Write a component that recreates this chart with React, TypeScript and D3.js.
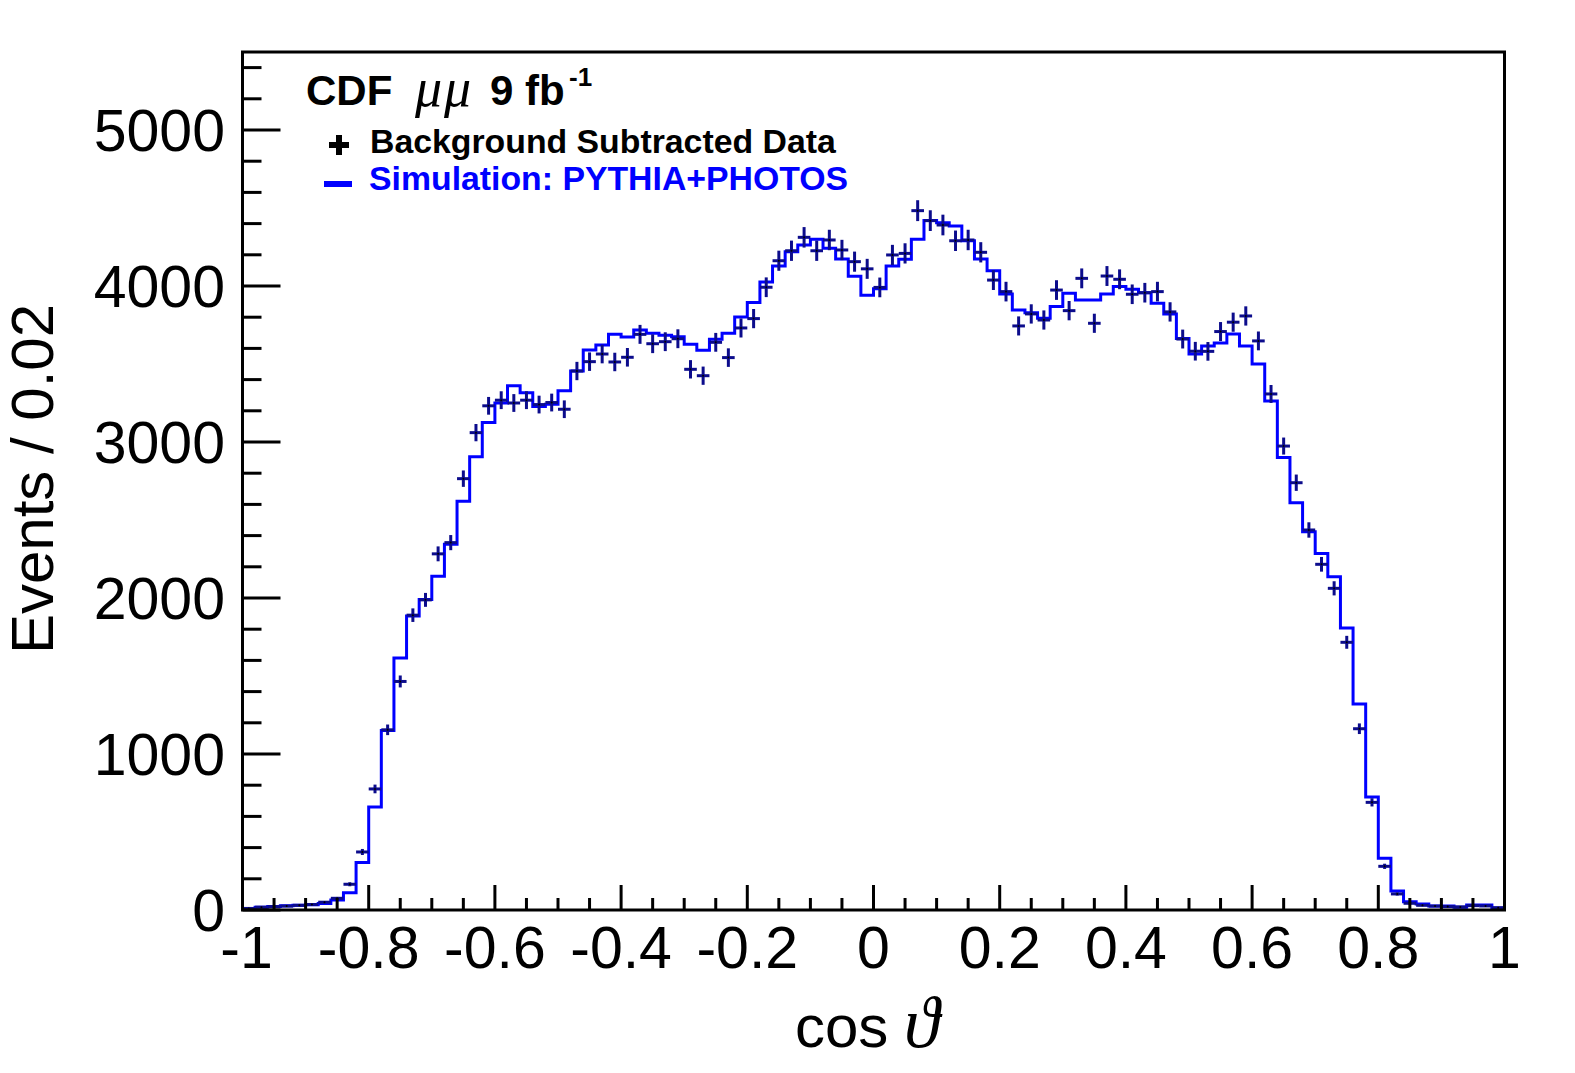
import * as d3 from 'd3'

// cos(theta) bins: -1..1 in steps of 0.02 (100 bins)
const binEdges = d3.range(101).map((i) => -1 + i * 0.02)

// PYTHIA+PHOTOS simulation, events per bin
const simCounts = [
  6, 17, 22, 27, 30, 33, 42, 64, 110, 305,
  660, 1150, 1615, 1885, 1990, 2140, 2345, 2620, 2905, 3125,
  3250, 3360, 3315, 3228, 3242, 3328, 3455, 3590, 3622, 3690,
  3673, 3718, 3697, 3684, 3675, 3626, 3588, 3658, 3697, 3801,
  3895, 4026, 4128, 4220, 4263, 4299, 4242, 4173, 4062, 3940,
  3983, 4128, 4171, 4299, 4420, 4405, 4385, 4290, 4173, 4098,
  3949, 3846, 3829, 3793, 3868, 3953, 3910, 3910, 3949, 3996,
  3979, 3957, 3889, 3820, 3664, 3564, 3616, 3635, 3692, 3616,
  3500, 3263, 2900, 2611, 2425, 2286, 2137, 1808, 1321, 724,
  331, 122, 53, 38, 26, 26, 17, 32, 32, 11,
]

// background subtracted data, events per bin
const dataCounts = [
  10, 18, 22, 25, 30, 35, 50, 75, 165, 372,
  776, 1155, 1465, 1890, 1988, 2283, 2355, 2765, 3060, 3232,
  3268, 3250, 3268, 3240, 3253, 3210, 3455, 3515, 3564, 3513,
  3543, 3690, 3630, 3643, 3662, 3466, 3425, 3639, 3541, 3731,
  3791, 3992, 4162, 4226, 4312, 4226, 4295, 4231, 4156, 4110,
  3991, 4199, 4209, 4483, 4419, 4391, 4290, 4295, 4216, 4038,
  3964, 3744, 3821, 3782, 3974, 3842, 4049, 3761, 4064, 4043,
  3947, 3957, 3964, 3834, 3660, 3582, 3581, 3708, 3768, 3808,
  3648, 3308, 2974, 2739, 2436, 2216, 2062, 1716, 1162, 690,
  280, 103, 43, 30, 25, 22, 20, 28, 26, 15,
]

const xTickLabels = ['-1', '-0.8', '-0.6', '-0.4', '-0.2', '0', '0.2', '0.4', '0.6', '0.8', '1']
const yTickLabels = ['0', '1000', '2000', '3000', '4000', '5000']

const WIDTH = 1575
const HEIGHT = 1073
const SANS = '"Liberation Sans", Arial, sans-serif'
const SERIF = '"Liberation Serif", "DejaVu Serif", serif'
const NAVY = '#0c0c8c'
const BLUE = '#0000ff'

const App = () => {
  const x = d3.scaleLinear().domain([-1, 1]).range([242.5, 1504.5])
  const y = d3.scaleLinear().domain([0, 5500]).range([910, 52])

  const histPts: [number, number][] = simCounts.map((v, i) => [binEdges[i], v])
  histPts.push([1, simCounts[simCounts.length - 1]])
  const histLine = d3
    .line<[number, number]>()
    .x((d) => x(d[0]))
    .y((d) => y(d[1]))
    .curve(d3.curveStepAfter)

  const xTicks = d3.range(41).map((i) => -1 + i * 0.05)
  const yTicks = d3.range(28).map((i) => i * 200)

  return (
    <svg
      width={WIDTH}
      height={HEIGHT}
      style={{ position: 'absolute', left: 0, top: 0, background: '#fff' }}
    >
      <rect width={WIDTH} height={HEIGHT} fill="#fff" />

      {/* simulation histogram */}
      <path d={histLine(histPts) || ''} fill="none" stroke={BLUE} strokeWidth={3} />

      {/* data points with errors */}
      <g stroke={NAVY} strokeWidth={3}>
        {dataCounts.map((v, i) => {
          const err = Math.sqrt(v)
          const cx = x(binEdges[i] + 0.01)
          return (
            <g key={i}>
              <line x1={x(binEdges[i])} x2={x(binEdges[i + 1])} y1={y(v)} y2={y(v)} />
              <line x1={cx} x2={cx} y1={y(v - err)} y2={y(v + err)} />
              <circle cx={cx} cy={y(v)} r={1} fill="#000" stroke="none" />
            </g>
          )
        })}
      </g>

      {/* frame */}
      <rect
        x={x(-1)}
        y={y(5500)}
        width={x(1) - x(-1)}
        height={y(0) - y(5500)}
        fill="none"
        stroke="#000"
        strokeWidth={3}
      />

      {/* x ticks */}
      <g stroke="#000" strokeWidth={3}>
        {xTicks.map((t, i) => (
          <line key={i} x1={x(t)} x2={x(t)} y1={y(0)} y2={y(0) - (i % 4 === 0 ? 25 : 12)} />
        ))}
      </g>
      {/* y ticks */}
      <g stroke="#000" strokeWidth={3}>
        {yTicks.map((t, i) => (
          <line key={i} x1={x(-1)} x2={x(-1) + (i % 5 === 0 ? 38 : 19)} y1={y(t)} y2={y(t)} />
        ))}
      </g>

      {/* tick labels */}
      <g fontFamily={SANS} fontSize={59} fill="#000" textAnchor="middle">
        {xTickLabels.map((s, i) => (
          <text key={s} x={x(-1 + i * 0.2) + (i === 0 ? 4 : 0)} y={968}>
            {s}
          </text>
        ))}
      </g>
      <g fontFamily={SANS} fontSize={59} fill="#000" textAnchor="end">
        {yTickLabels.map((s, i) => (
          <text key={s} x={225} y={y(i * 1000) + 21}>
            {s}
          </text>
        ))}
      </g>

      {/* axis titles */}
      <text x={795} y={1047} fontFamily={SANS} fontSize={60} fill="#000">
        cos
      </text>
      <text x={904} y={1047} fontFamily={SERIF} fontStyle="italic" fontSize={72} fill="#000">
        ϑ
      </text>
      <text
        transform="translate(53,479) rotate(-90)"
        textAnchor="middle"
        fontFamily={SANS}
        fontSize={60}
        fill="#000"
      >
        Events / 0.02
      </text>

      {/* title */}
      <text x={306} y={105} fontFamily={SANS} fontWeight="bold" fontSize={42} fill="#000">
        CDF
      </text>
      <text x={415} y={106} fontFamily={SERIF} fontStyle="italic" fontSize={54} fill="#000">
        μ
      </text>
      <text x={444} y={106} fontFamily={SERIF} fontStyle="italic" fontSize={54} fill="#000">
        μ
      </text>
      <text x={490} y={105} fontFamily={SANS} fontWeight="bold" fontSize={42} fill="#000">
        9 fb
      </text>
      <text x={569} y={86} fontFamily={SANS} fontWeight="bold" fontSize={26} fill="#000">
        -1
      </text>

      {/* legend */}
      <g stroke="#000" strokeWidth={6}>
        <line x1={329} x2={349} y1={145} y2={145} />
        <line x1={339} x2={339} y1={135} y2={155} />
      </g>
      <text x={370} y={153} fontFamily={SANS} fontWeight="bold" fontSize={33.8} fill="#000">
        Background Subtracted Data
      </text>
      <line x1={324} x2={352} y1={184} y2={184} stroke={BLUE} strokeWidth={6} />
      <text x={369} y={190} fontFamily={SANS} fontWeight="bold" fontSize={33.8} fill={BLUE}>
        Simulation: PYTHIA+PHOTOS
      </text>
    </svg>
  )
}

export default App
